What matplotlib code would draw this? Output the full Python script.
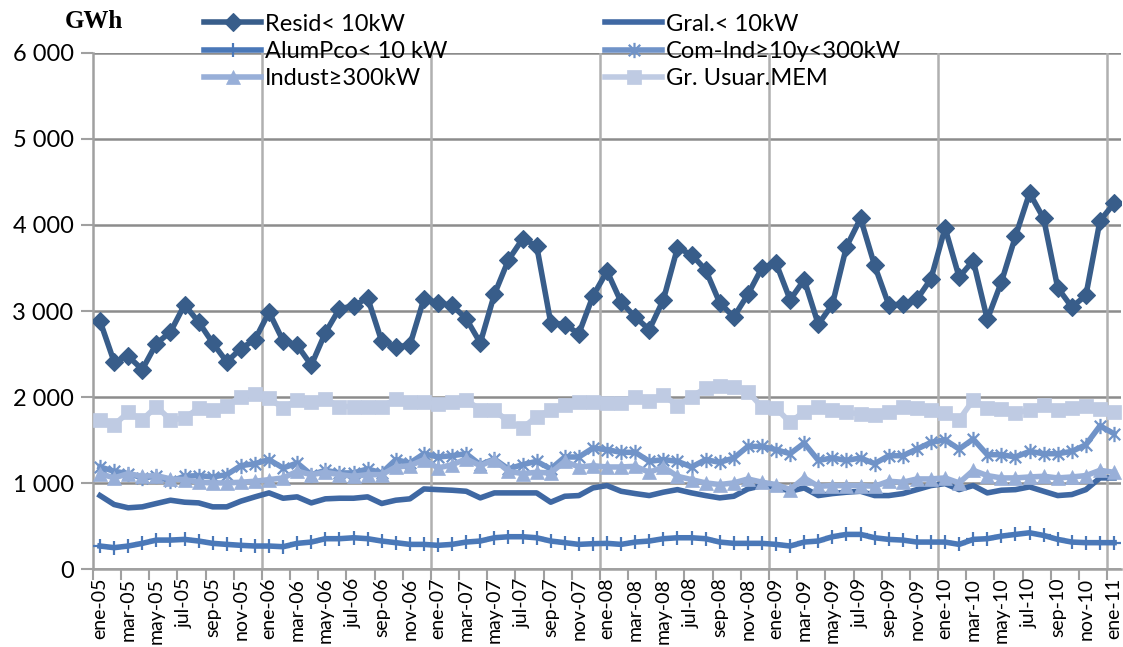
import matplotlib.pyplot as plt
from matplotlib.path import Path
from matplotlib.ticker import FuncFormatter
import numpy as np

plt.rcParams['font.family'] = ['Lato', 'DejaVu Sans']

# meses ene-05 .. ene-11
meses = ['ene', 'feb', 'mar', 'abr', 'may', 'jun', 'jul', 'ago', 'sep', 'oct', 'nov', 'dic']
etiquetas = [f'{meses[i % 12]}-{5 + i // 12:02d}' for i in range(73)]

resid = [2884, 2410, 2475, 2321, 2622, 2757, 3073, 2873, 2630, 2410, 2564, 2668,
         2988, 2653, 2603, 2371, 2749, 3027, 3058, 3154, 2649, 2583, 2603, 3143,
         3093, 3066, 2911, 2630, 3193, 3594, 3837, 3760, 2865, 2842, 2738, 3174,
         3463, 3104, 2931, 2784, 3131, 3733, 3656, 3478, 3096, 2931, 3193, 3502,
         3556, 3131, 3363, 2846, 3077, 3748, 4076, 3529, 3073, 3077, 3135, 3374,
         3965, 3394, 3586, 2904, 3336, 3868, 4370, 4076, 3270, 3046, 3181, 4049,
         4250]
gral = [857, 753, 715, 726, 765, 803, 780, 772, 726, 726, 792, 842,
        888, 826, 842, 772, 819, 826, 826, 842, 765, 803, 819, 934,
        926, 919, 907, 830, 888, 888, 888, 888, 780, 849, 857, 946,
        973, 907, 880, 857, 896, 926, 888, 857, 830, 849, 934, 973,
        958, 907, 946, 857, 880, 896, 907, 857, 857, 880, 926, 973,
        996, 926, 973, 888, 919, 926, 958, 907, 857, 869, 926, 1062,
        1062]
alum = [271, 252, 271, 302, 340, 340, 348, 329, 302, 290, 279, 271,
        271, 263, 302, 317, 356, 356, 367, 356, 329, 310, 290, 290,
        279, 290, 317, 329, 367, 379, 379, 367, 329, 310, 290, 298,
        302, 290, 317, 329, 356, 367, 367, 356, 317, 302, 302, 302,
        290, 271, 317, 329, 379, 406, 406, 367, 348, 340, 317, 317,
        317, 290, 348, 356, 386, 406, 425, 394, 348, 317, 310, 310,
        310]
comind = [1189, 1139, 1112, 1062, 1081, 1023, 1081, 1089, 1073, 1100, 1204, 1228,
          1274, 1177, 1235, 1100, 1150, 1120, 1120, 1166, 1120, 1274, 1235, 1343,
          1305, 1320, 1343, 1216, 1282, 1166, 1216, 1255, 1166, 1305, 1305, 1409,
          1390, 1359, 1359, 1255, 1274, 1255, 1189, 1274, 1243, 1293, 1428, 1428,
          1390, 1343, 1467, 1266, 1293, 1266, 1293, 1228, 1320, 1320, 1397, 1474,
          1505, 1397, 1513, 1332, 1332, 1305, 1370, 1343, 1343, 1370, 1447, 1667,
          1575]
indust = [1112, 1062, 1112, 1081, 1089, 1050, 1042, 1012, 1004, 1004, 1012, 1023,
          1042, 1062, 1139, 1100, 1127, 1100, 1081, 1100, 1100, 1189, 1204, 1274,
          1177, 1216, 1282, 1204, 1274, 1139, 1112, 1127, 1120, 1255, 1189, 1204,
          1189, 1189, 1197, 1127, 1189, 1081, 1042, 1004, 985, 1004, 1050, 1012,
          985, 927, 1062, 965, 973, 973, 973, 965, 1023, 1012, 1050, 1050,
          1062, 1004, 1150, 1089, 1062, 1062, 1073, 1081, 1062, 1073, 1089, 1150,
          1127]
mem = [1737, 1679, 1822, 1737, 1891, 1737, 1756, 1872, 1845, 1899, 2007, 2038,
       1988, 1872, 1968, 1949, 1976, 1891, 1891, 1891, 1891, 1976, 1949, 1949,
       1922, 1949, 1968, 1853, 1845, 1718, 1640, 1775, 1845, 1911, 1938, 1949,
       1930, 1930, 2000, 1961, 2026, 1899, 2007, 2103, 2130, 2123, 2065, 1884,
       1872, 1706, 1833, 1884, 1853, 1822, 1806, 1795, 1822, 1884, 1872, 1845,
       1814, 1737, 1968, 1872, 1860, 1814, 1853, 1911, 1853, 1872, 1899, 1860,
       1833]

# asterisco estilo Excel: vertical + X
ast = Path([(0, -1), (0, 1), (-0.75, -0.75), (0.75, 0.75), (-0.75, 0.75), (0.75, -0.75)],
           [Path.MOVETO, Path.LINETO, Path.MOVETO, Path.LINETO, Path.MOVETO, Path.LINETO])

fig = plt.figure(figsize=(11.23, 6.47), dpi=100)
ax = fig.add_axes([0.0828, 0.12, 0.9155, 0.7985])
x = np.arange(len(etiquetas))

l1, = ax.plot(x, resid, color='#385D8A', lw=4, marker='D', ms=9.5, mew=0.8, label='Resid< 10kW', zorder=3)
l2, = ax.plot(x, gral, color='#3F68A3', lw=4, label='Gral.< 10kW', zorder=4)
l3, = ax.plot(x, alum, color='#4A78B8', lw=4, marker='+', ms=10, mew=1.6, label='AlumPco< 10 kW', zorder=5)
l4, = ax.plot(x, comind, color='#7093C8', lw=4, marker=ast, ms=11, mew=1.6, label='Com-Ind≥10y<300kW', zorder=6)
l5, = ax.plot(x, indust, color='#98AFD8', lw=4, marker='^', ms=10, mew=0.5, label='Indust≥300kW', zorder=7)
l6, = ax.plot(x, mem, color='#BFCBE3', lw=4, marker='s', ms=10, mew=0.5, label='Gr. Usuar.MEM', zorder=8)

ax.set_xlim(-0.5, 72.5)
ax.set_ylim(0, 6000)
ax.set_yticks(range(0, 6001, 1000))
ax.yaxis.set_major_formatter(FuncFormatter(lambda v, p: f'{int(v):,}'.replace(',', ' ')))
ax.tick_params(axis='y', labelsize=17, length=9, width=1.5, color='#A0A0A0', pad=5)
ax.grid(axis='y', color='#8C8C8C', lw=1.8)

ax.set_xticks(np.arange(-0.5, 72, 2))
ax.set_xticklabels([])
ax.set_xticks(x[::2], minor=True)
ax.set_xticklabels(etiquetas[::2], minor=True, rotation=90, fontsize=14)
ax.tick_params(axis='x', which='major', length=8, width=1.5, color='#A0A0A0')
ax.tick_params(axis='x', which='minor', length=0, pad=6)
for xv in np.arange(11.5, 72, 12):
    ax.axvline(xv, color='#B0B0B0', lw=1.8, zorder=1)

for s in ['top', 'right']:
    ax.spines[s].set_visible(False)
for s in ['left', 'bottom']:
    ax.spines[s].set_color('#A0A0A0')
    ax.spines[s].set_linewidth(1.8)
ax.set_axisbelow(True)

kw = dict(frameon=False, fontsize=17, handlelength=2.4, handletextpad=0.15,
          borderpad=0, borderaxespad=0, labelspacing=0.27, loc='upper left')
fig.legend([l1, l3, l5], [l1.get_label(), l3.get_label(), l5.get_label()],
           bbox_to_anchor=(0.182, 0.979), **kw)
fig.legend([l2, l4, l6], [l2.get_label(), l4.get_label(), l6.get_label()],
           bbox_to_anchor=(0.539, 0.979), **kw)

fig.text(0.058, 0.967, 'GWh', fontsize=18, fontweight='bold', family='Liberation Serif', va='center')

plt.savefig('out.png', dpi=100)
